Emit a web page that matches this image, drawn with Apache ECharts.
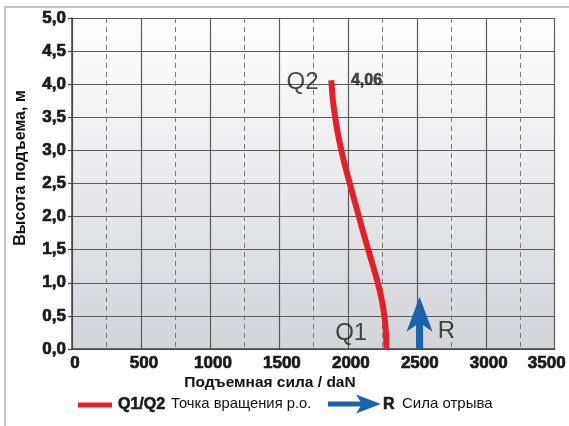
<!DOCTYPE html>
<html>
<head>
<meta charset="utf-8">
<script src="https://cdn.jsdelivr.net/npm/echarts@6/dist/echarts.min.js"></script>
<style>
  html, body { margin: 0; padding: 0; background: #ffffff; }
  #chart { width: 569px; height: 426px; }
</style>
</head>
<body>
<div id="chart"></div>
<script>
// ---- data ----
const xTicks = [0, 500, 1000, 1500, 2000, 2500, 3000, 3500];
const yTicks = [0, 0.5, 1.0, 1.5, 2.0, 2.5, 3.0, 3.5, 4.0, 4.5, 5.0];
const curveHeight = [0, 0.25, 0.5, 0.75, 1.0, 1.25, 1.5, 1.75, 2.0, 2.25, 2.5, 2.75, 3.0, 3.25, 3.5, 3.75, 4.06];
const curveForce  = [2280, 2276, 2265, 2245, 2217, 2183, 2148, 2113, 2080, 2047, 2014, 1982, 1953, 1928, 1908, 1892, 1880];
const arrowForce = 2520;
const arrowTop = 0.79;
const maxHeightLabel = '4,06';
const annotations = [
  { x: 1671, y: 4.03, text: 'Q2', bold: false },
  { x: 2135, y: 4.05, text: maxHeightLabel, bold: true },
  { x: 2024, y: 0.24, text: 'Q1', bold: false },
  { x: 2715, y: 0.26, text: 'R', bold: false }
];
const xName = 'Подъемная сила / daN';
const yName = 'Высота подъема, м';
const legendQ = 'Q1/Q2';
const legendQText = 'Точка вращения р.о.';
const legendR = 'R';
const legendRText = 'Сила отрыва';

const RED = '#e41f26';
const BLUE = '#1b62ad';
const INK = '#1a1a1a';
const FONT = "'Liberation Sans', Arial, sans-serif";

const chart = echarts.init(document.getElementById('chart'), null, { renderer: 'canvas' });

const curveData = curveForce.map((f, i) => [f, curveHeight[i]]);

const heavy = { fontFamily: FONT, fontWeight: 'bold', fontSize: 17, color: INK, textBorderColor: INK, textBorderWidth: 0.7 };

const option = {
  animation: false,
  backgroundColor: '#ffffff',
  grid: {
    left: 72, right: 11, top: 18, bottom: 77,
    show: true,
    borderWidth: 0,
    backgroundColor: {
      type: 'linear', x: 0, y: 0, x2: 0, y2: 1,
      colorStops: [
        { offset: 0, color: '#ffffff' },
        { offset: 1, color: '#d3d4d8' }
      ]
    }
  },
  xAxis: {
    type: 'value',
    min: 0, max: 3500, interval: 500,
    axisLine: { show: true, lineStyle: { color: '#444', width: 1.5 } },
    axisTick: { show: false },
    axisLabel: {
      margin: 6,
      formatter: function (v) {
        return v === 3500 ? '{last|' + v + '}' : '{n|' + v + '}';
      },
      rich: {
        n: Object.assign({}, heavy, { padding: [0, 0, 0, 6] }),
        last: Object.assign({}, heavy, { padding: [0, 16, 0, 0] })
      }
    },
    splitLine: { show: true, lineStyle: { color: '#5a5a5a', width: 1.2 } },
    minorTick: { show: false, splitNumber: 2 },
    minorSplitLine: { show: true, lineStyle: { color: '#7a7a7a', width: 1, type: [5, 4] } }
  },
  yAxis: {
    type: 'value',
    min: 0, max: 5, interval: 0.5,
    axisLine: { show: true, lineStyle: { color: '#444', width: 1.5 } },
    axisTick: { show: true, length: 4, lineStyle: { color: '#444', width: 1.2 } },
    axisLabel: Object.assign({
      margin: 6,
      formatter: function (v) { return v.toFixed(1).replace('.', ','); }
    }, heavy),
    splitLine: { show: true, lineStyle: { color: '#5a5a5a', width: 1.2 } }
  },
  series: [
    {
      name: 'Q1/Q2',
      type: 'line',
      data: curveData,
      smooth: 0.3,
      showSymbol: false,
      symbol: 'none',
      lineStyle: { color: RED, width: 6, cap: 'butt' },
      z: 5
    },
    {
      name: 'R',
      type: 'custom',
      data: [[arrowForce, 0, arrowTop]],
      renderItem: function (params, api) {
        const base = api.coord([api.value(0), api.value(1)]);
        const tip = api.coord([api.value(0), api.value(2)]);
        const cx = base[0];
        const headLen = 35, notch = 26, halfW = 13, shaftHalf = 3.5;
        return {
          type: 'group',
          children: [
            { type: 'rect', shape: { x: cx - shaftHalf, y: tip[1] + notch - 2, width: shaftHalf * 2, height: base[1] - (tip[1] + notch - 2) }, style: { fill: BLUE } },
            { type: 'polygon', shape: { points: [[cx, tip[1]], [cx + halfW, tip[1] + headLen], [cx, tip[1] + notch], [cx - halfW, tip[1] + headLen]] }, style: { fill: BLUE } }
          ]
        };
      },
      z: 6
    },
    {
      name: 'annotations',
      type: 'scatter',
      symbolSize: 0,
      data: annotations.map(a => ({
        value: [a.x, a.y],
        label: a.bold ? {
          show: true, position: 'inside', formatter: a.text,
          fontFamily: FONT, fontWeight: 'bold', fontSize: 16, color: INK,
          textBorderColor: INK, textBorderWidth: 0.6
        } : {
          show: true, position: 'inside', formatter: a.text,
          fontFamily: FONT, fontWeight: 'normal', fontSize: 24, color: INK
        }
      })),
      silent: true,
      z: 7
    }
  ],
  graphic: [
    // outer frame
    { type: 'rect', shape: { x: 5, y: 7, width: 600, height: 500 }, style: { fill: null, stroke: '#c4c4c4', lineWidth: 2 }, z: 0, silent: true },
    // axis names
    { type: 'text', x: 270, y: 383, style: { text: xName, fontFamily: FONT, fontWeight: 'bold', fontSize: 15.5, fill: '#111', align: 'center', verticalAlign: 'middle' } },
    { type: 'text', x: 21, y: 168, rotation: Math.PI / 2, style: { text: yName, fontFamily: FONT, fontWeight: 'bold', fontSize: 16, fill: '#111', align: 'center', verticalAlign: 'middle' } },
    // legend: red line
    { type: 'rect', shape: { x: 78, y: 402.5, width: 34, height: 5 }, style: { fill: RED } },
    { type: 'text', x: 118, y: 405, style: { text: legendQ, fontFamily: FONT, fontWeight: 'bold', fontSize: 16, fill: INK, stroke: INK, lineWidth: 0.6, align: 'left', verticalAlign: 'middle' } },
    { type: 'text', x: 171, y: 404, style: { text: legendQText, fontFamily: FONT, fontSize: 14.8, fill: '#111', align: 'left', verticalAlign: 'middle' } },
    // legend: blue arrow
    { type: 'rect', shape: { x: 328, y: 401.5, width: 34, height: 5 }, style: { fill: BLUE } },
    { type: 'polygon', shape: { points: [[381, 404], [356, 394.5], [362, 404], [356, 413.5]] }, style: { fill: BLUE } },
    { type: 'text', x: 383, y: 405, style: { text: legendR, fontFamily: FONT, fontWeight: 'bold', fontSize: 16, fill: INK, stroke: INK, lineWidth: 0.6, align: 'left', verticalAlign: 'middle' } },
    { type: 'text', x: 402, y: 404, style: { text: legendRText, fontFamily: FONT, fontSize: 15, fill: '#111', align: 'left', verticalAlign: 'middle' } }
  ]
};

chart.setOption(option);
</script>
</body>
</html>
